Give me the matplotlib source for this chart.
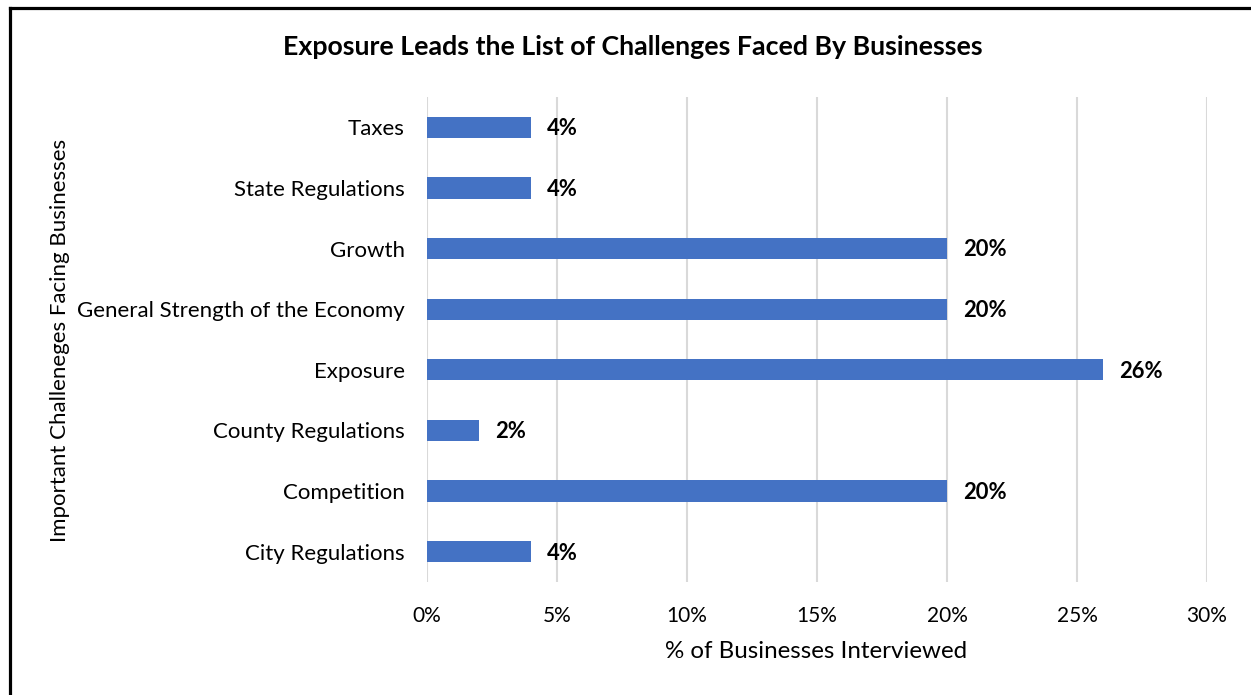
import matplotlib
matplotlib.use("Agg")
import matplotlib.pyplot as plt
from matplotlib.lines import Line2D
from matplotlib.ticker import FuncFormatter

categories = [
    "City Regulations",
    "Competition",
    "County Regulations",
    "Exposure",
    "General Strength of the Economy",
    "Growth",
    "State Regulations",
    "Taxes",
]
values = [4, 20, 2, 26, 20, 20, 4, 4]
x_ticks = [0, 5, 10, 15, 20, 25, 30]

W, H, DPI = 1251, 695, 100
plt.rcParams["font.family"] = ["Lato", "DejaVu Sans"]

fig = plt.figure(figsize=(W / DPI, H / DPI), dpi=DPI)
fig.patch.set_facecolor("white")

# plot area in pixel coordinates
left, right, top, bottom = 427, 1207, 97, 582
ax = fig.add_axes([left / W, 1 - bottom / H, (right - left) / W, (bottom - top) / H])

y = list(range(len(categories)))
ax.barh(y, values, height=0.35, color="#4472C4", zorder=3)

for yi, v in zip(y, values):
    ax.annotate(f"{v}%", (v, yi), xytext=(11.5, -1), textcoords="offset points",
                ha="left", va="center", fontsize=15.8, fontweight="bold",
                color="black", zorder=4)

ax.set_xlim(0, 30)
ax.set_ylim(-0.5, len(categories) - 0.5)
ax.set_xticks(x_ticks)
ax.xaxis.set_major_formatter(FuncFormatter(lambda v, p: f"{int(v)}%"))
ax.set_yticks(y)
ax.set_yticklabels(categories)
ax.grid(axis="x", color="#d9d9d9", linewidth=1.5, zorder=0)
ax.tick_params(axis="both", length=0, colors="black")
ax.tick_params(axis="x", pad=17, labelsize=15)
ax.tick_params(axis="y", pad=16, labelsize=16)
for s in ax.spines.values():
    s.set_visible(False)

fig.text(633 / W, 1 - 47 / H, "Exposure Leads the List of Challenges Faced By Businesses",
         ha="center", va="center", fontsize=19.3, fontweight="bold")
fig.text(816 / W, 1 - 652 / H, "% of Businesses Interviewed",
         ha="center", va="center", fontsize=17.4)
fig.text(60 / W, 1 - 340 / H, "Important Challeneges Facing Businesses",
         ha="center", va="center", fontsize=16, rotation=90)

# frame lines along the left and top edges
fig.add_artist(Line2D([10 / W, 10 / W], [0, 1 - 7.5 / H], transform=fig.transFigure,
                      color="black", linewidth=2.3))
fig.add_artist(Line2D([10 / W, 1], [1 - 7.5 / H, 1 - 7.5 / H], transform=fig.transFigure,
                      color="black", linewidth=2.3))

fig.savefig("out.png", dpi=DPI, facecolor="white")
